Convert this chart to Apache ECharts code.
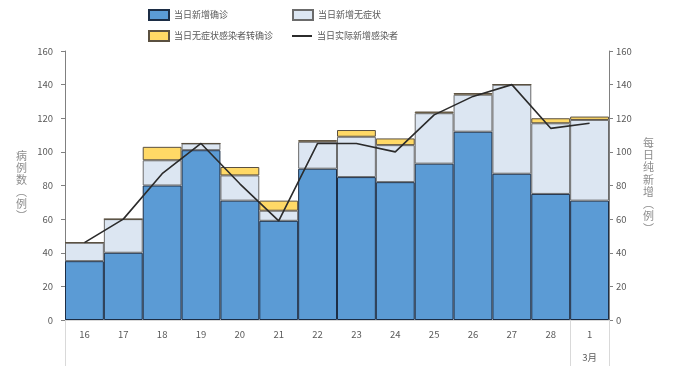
<!DOCTYPE html>
<html>
<head>
<meta charset="utf-8">
<script src="https://cdn.jsdelivr.net/npm/echarts@6/dist/echarts.min.js"></script>
<style>html,body{margin:0;padding:0;background:#fff}#c{width:677px;height:383px}</style>
</head>
<body>
<div id="c"></div>
<script>
const categories = ['16','17','18','19','20','21','22','23','24','25','26','27','28','1'];
const monthLabel = '3月';
const confirmed = [35, 40, 80, 101, 71, 59, 90, 85, 82, 93, 112, 87, 75, 71];
const asymptomatic = [11, 20, 15, 4, 15, 6, 16, 24, 22, 30, 22, 53, 42, 48];
const transferred = [0, 0, 8, 0, 5, 6, 1, 4, 4, 1, 1, 0, 3, 2];
const actualNew = [46, 60, 87, 105, 81, 59, 105, 105, 100, 122, 133, 140, 114, 117];
const yTicks = {min: 0, max: 160, interval: 20};

const FONT = '"Noto Sans CJK SC", "Noto Sans", sans-serif';
const chart = echarts.init(document.getElementById('c'));
const legendText = {color: '#595959', fontSize: 9, fontFamily: FONT, lineHeight: 13};
chart.setOption({
  animation: false,
  textStyle: {fontFamily: FONT},
  legend: [
    {orient: 'vertical', left: 148, top: 8.5, padding: 0, itemWidth: 20, itemHeight: 10, itemGap: 8,
     icon: 'rect', textStyle: legendText,
     data: ['当日新增确诊', '当日无症状感染者转确诊']},
    {orient: 'vertical', left: 292, top: 8.5, padding: 0, itemWidth: 20, itemHeight: 10,
     icon: 'rect', textStyle: legendText, data: ['当日新增无症状']},
    {orient: 'vertical', left: 292, top: 29.5, padding: 0, itemWidth: 20, itemHeight: 2,
     icon: 'rect', textStyle: legendText, data: ['当日实际新增感染者']}
  ],
  grid: {left: 65, right: 68, top: 51, bottom: 63},
  xAxis: {
    type: 'category', data: categories,
    axisLine: {lineStyle: {color: '#d9d9d9'}},
    axisTick: {show: true, length: 46, lineStyle: {color: '#d9d9d9'},
      interval: function (i) { return i === 0 || i === categories.length - 1; }},
    axisLabel: {color: '#595959', fontSize: 9.5, margin: 2.5, lineHeight: 23,
      interval: 0,
      formatter: function (v, i) { return i === categories.length - 1 ? v + '\n' + monthLabel : v; }}
  },
  yAxis: [
    {type: 'value', min: yTicks.min, max: yTicks.max, interval: yTicks.interval, position: 'left',
     name: '病\n例\n数\n︵\n例\n︶', nameLocation: 'middle', nameRotate: 0, nameGap: 38,
     nameTextStyle: {color: '#8c8c8c', fontSize: 11, lineHeight: 12},
     axisLine: {show: true, lineStyle: {color: '#808080'}},
     axisTick: {show: true, length: 4, lineStyle: {color: '#808080'}},
     axisLabel: {color: '#595959', fontSize: 9.5, margin: 12},
     splitLine: {show: false}},
    {type: 'value', min: yTicks.min, max: yTicks.max, interval: yTicks.interval, position: 'right',
     name: '每\n日\n纯\n新\n增\n︵\n例\n︶', nameLocation: 'middle', nameRotate: 0, nameGap: 34,
     nameTextStyle: {color: '#8c8c8c', fontSize: 11, lineHeight: 12.3},
     axisLine: {show: true, lineStyle: {color: '#808080'}},
     axisTick: {show: true, length: 4, lineStyle: {color: '#808080'}},
     axisLabel: {color: '#595959', fontSize: 9.5, margin: 7},
     splitLine: {show: false}}
  ],
  series: [
    {name: '当日新增确诊', type: 'bar', stack: 'a', data: confirmed, barCategoryGap: '0%',
     itemStyle: {color: '#5b9bd5', borderColor: '#1c2d45', borderWidth: 1}},
    {name: '当日新增无症状', type: 'bar', stack: 'a', data: asymptomatic,
     itemStyle: {color: '#dce6f2', borderColor: '#6b6b6b', borderWidth: 1}},
    {name: '当日无症状感染者转确诊', type: 'bar', stack: 'a', data: transferred,
     itemStyle: {color: '#ffd966', borderColor: '#5a5040', borderWidth: 1}},
    {name: '当日实际新增感染者', type: 'line', yAxisIndex: 1, data: actualNew, symbol: 'none',
     lineStyle: {color: '#2b2b2b', width: 1.6}, itemStyle: {color: '#2b2b2b'}, z: 5}
  ]
});
</script>
</body>
</html>
